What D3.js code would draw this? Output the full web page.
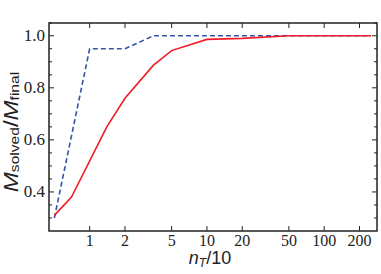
<!DOCTYPE html>
<html>
<head>
<meta charset="utf-8">
<script src="https://cdn.jsdelivr.net/npm/d3@7"></script>
<style>
  body { margin: 0; background: #fff; }
  svg text { fill: #222; }
</style>
</head>
<body>
<svg class="s"></svg>
<script>
// values
var redX  = [0.5, 0.7, 1.4, 2, 3.5, 5, 10, 20, 50, 250];
var redY  = [0.31, 0.38, 0.65, 0.76, 0.887, 0.943, 0.986, 0.99, 1.0, 1.0];
var blueX = [0.5, 1, 2, 3.5, 250];
var blueY = [0.30, 0.95, 0.95, 1.0, 1.0];
var xTicks = [1, 2, 5, 10, 20, 50, 100, 200];
var yTicks = [0.4, 0.6, 0.8, 1.0];
var yMinor = [0.3, 0.35, 0.45, 0.5, 0.55, 0.65, 0.7, 0.75, 0.85, 0.9, 0.95, 1.05];

var w = 381;
var h = 274;
var pLeft = 49, pRight = 377, pTop = 23, pBottom = 231;

var svg = d3.select('.s')
            .attr('width', w)
            .attr('height', h);

var x = d3.scaleLog()
          .domain([0.45, 282])
          .range([pLeft, pRight]);

var y = d3.scaleLinear()
          .domain([0.25, 1.049])
          .range([pBottom, pTop]);

var tickFont = '"Liberation Serif", "Times New Roman", serif';

// ticks (inward)
var g = svg.append('g').attr('stroke', '#222').attr('stroke-width', 1);
xTicks.forEach(function(t){
  g.append('line').attr('x1', x(t)).attr('x2', x(t)).attr('y1', pBottom).attr('y2', pBottom - 5);
  g.append('line').attr('x1', x(t)).attr('x2', x(t)).attr('y1', pTop).attr('y2', pTop + 5);
});
yTicks.forEach(function(t){
  g.append('line').attr('x1', pLeft).attr('x2', pLeft + 5).attr('y1', y(t)).attr('y2', y(t));
  g.append('line').attr('x1', pRight).attr('x2', pRight - 5).attr('y1', y(t)).attr('y2', y(t));
});
yMinor.forEach(function(t){
  g.append('line').attr('x1', pLeft).attr('x2', pLeft + 3).attr('y1', y(t)).attr('y2', y(t));
  g.append('line').attr('x1', pRight).attr('x2', pRight - 3).attr('y1', y(t)).attr('y2', y(t));
});

// tick labels
svg.append('g').selectAll('text')
   .data(xTicks)
   .enter()
   .append('text')
   .attr('x', function(d){ return x(d); })
   .attr('y', 246)
   .attr('text-anchor', 'middle')
   .style('font-family', tickFont)
   .style('font-size', '16px')
   .text(function(d){ return d; });

svg.append('g').selectAll('text')
   .data(yTicks)
   .enter()
   .append('text')
   .attr('x', 45)
   .attr('y', function(d){ return y(d) + 5.5; })
   .attr('text-anchor', 'end')
   .style('font-family', tickFont)
   .style('font-size', '17px')
   .text(function(d){ return d.toFixed(1); });

// lines
var line = d3.line()
             .x(function(d){ return x(d[0]); })
             .y(function(d){ return y(d[1]); });

svg.append('path')
   .attr('d', line(d3.zip(blueX, blueY)))
   .attr('fill', 'none')
   .attr('stroke', '#3553a8')
   .attr('stroke-width', 1.6)
   .attr('stroke-dasharray', '5,3');

svg.append('path')
   .attr('d', line(d3.zip(redX, redY)))
   .attr('fill', 'none')
   .attr('stroke', '#ee1c25')
   .attr('stroke-width', 1.6);

// frame
svg.append('rect')
   .attr('x', pLeft).attr('y', pTop)
   .attr('width', pRight - pLeft).attr('height', pBottom - pTop)
   .attr('fill', 'none')
   .attr('stroke', '#222')
   .attr('stroke-width', 1.5);

// axis labels
var sans = '"Liberation Sans", Arial, sans-serif';
var xl = svg.append('text')
   .attr('x', 210).attr('y', 264)
   .attr('text-anchor', 'middle')
   .style('font-family', sans)
   .style('font-size', '18px');
xl.append('tspan').style('font-style', 'italic').text('n');
xl.append('tspan').style('font-style', 'italic').style('font-size', '12px').attr('dy', 3).text('T');
xl.append('tspan').attr('dy', -3).text('/10');

var yl = svg.append('text')
   .attr('transform', 'translate(18,132) rotate(-90) scale(1.2,1)')
   .attr('text-anchor', 'middle')
   .style('font-family', sans)
   .style('font-size', '20px');
yl.append('tspan').style('font-style', 'italic').text('M');
yl.append('tspan').style('font-size', '13px').attr('dy', 1).text('solved');
yl.append('tspan').attr('dy', -1).text('/');
yl.append('tspan').style('font-style', 'italic').text('M');
yl.append('tspan').style('font-size', '13px').attr('dy', 1).text('final');
</script>
</body>
</html>
